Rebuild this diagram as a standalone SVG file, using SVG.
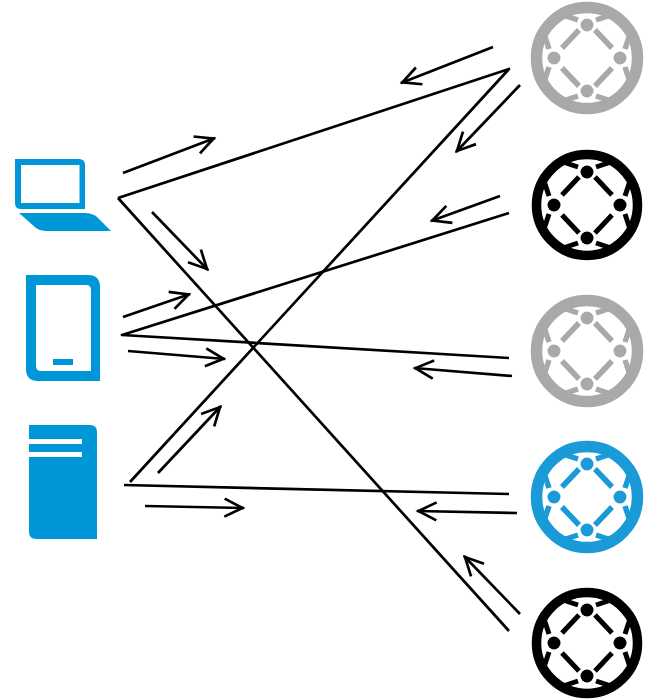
<svg xmlns="http://www.w3.org/2000/svg" width="646" height="700" viewBox="0 0 646 700">
<style>
.ln{fill:none;stroke:#000;stroke-width:2.7;stroke-linejoin:round}
.ar{fill:none;stroke:#000;stroke-width:2.7;marker-end:url(#open)}
.blue{fill:#0097d9}
.gray{color:#a9a9a9;--ring:11.500px;--inner:5.500px}
.black{color:#000;--ring:9.500px;--inner:5px}
.sky{color:#1a9bd7;--ring:11.500px;--inner:5.500px}
.ring{stroke-width:var(--ring)}
.inner{stroke-width:var(--inner)}
</style>
<defs>
<marker id="open" markerUnits="userSpaceOnUse" markerWidth="26" markerHeight="26" refX="21.500" refY="13" orient="auto">
<path d="M2,4 L20,13 L2,22" fill="none" stroke="#000" stroke-width="2.7"/>
</marker>
<symbol id="mesh" overflow="visible" viewBox="-56 -56 112 112" width="112" height="112">
<g fill="none" stroke="currentColor">
<circle r="50.500" class="ring"/>
<g class="inner">
<path d="M-9,-38 Q-18,-41 -27,-44"/>
<path d="M9,-38 Q18,-41 27,-44"/>
<path d="M-9,38 Q-18,41 -27,44"/>
<path d="M9,38 Q18,41 27,44"/>
<path d="M-38,-9 Q-41,-18 -44,-27"/>
<path d="M38,-9 Q41,-18 44,-27"/>
<path d="M-38,9 Q-41,18 -44,27"/>
<path d="M38,9 Q41,18 44,27"/>
<path d="M-8,-28 L-25,-10 M8,-28 L25,-10 M-8,28 L-25,10 M8,28 L25,10"/>
</g>
</g>
<g fill="currentColor">
<circle cy="-33" r="6.500"/><circle cy="33" r="6.500"/><circle cx="-33" r="6.500"/><circle cx="33" r="6.500"/>
</g>
</symbol>
</defs>
<g id="connectors">
<path class="ln" d="M118,198 L509,69 L130,482"/>
<path class="ln" d="M118,198 L509,631"/>
<path class="ln" d="M509,213 L122,335 L509,358"/>
<path class="ln" d="M124,485 L509,494"/>
<path class="ar" d="M123,173 L215,138"/>
<path class="ar" d="M152,212 L208,270"/>
<path class="ar" d="M123,317 L190,294"/>
<path class="ar" d="M128,351 L225,359"/>
<path class="ar" d="M158,473 L221,406"/>
<path class="ar" d="M145,506 L244,508"/>
<path class="ar" d="M493,47 L401,83"/>
<path class="ar" d="M520,85 L456,152"/>
<path class="ar" d="M500,196 L431,221"/>
<path class="ar" d="M512,376 L414,368"/>
<path class="ar" d="M517,513 L417,511"/>
<path class="ar" d="M520,614 L464,556"/>
</g>
<g id="laptop">
<path class="blue" fill-rule="evenodd" d="M15,159 H79 Q85,159 85,165 V209 H21 Q15,209 15,203 Z M21,165 V203 H79.500 V165 Z"/>
<path class="blue" d="M19,213 H85 Q92,213 97,217 L111,231 H45 Q40,231 36,228 Z"/>
</g>
<g id="tablet">
<path class="blue" fill-rule="evenodd" d="M26,275 H88 Q100,275 100,287 V381 H38 Q26,381 26,369 Z M36,285 V366 Q36,371 41,371 H91 V290 Q91,285 86,285 Z"/>
<rect class="blue" x="53" y="359" width="20" height="6"/>
</g>
<g id="server">
<path class="blue" fill-rule="evenodd" d="M29,425 H90 Q97,425 97,432 V539 H36 Q29,539 29,532 Z M29,439 V444 H82 V439 Z M29,452 V457 H82 V452 Z"/>
</g>
<g id="node1" class="gray"><use href="#mesh" x="531" y="2"/></g>
<g id="node2" class="black"><use href="#mesh" x="531" y="149"/></g>
<g id="node3" class="gray"><use href="#mesh" x="531" y="295"/></g>
<g id="node4" class="sky"><use href="#mesh" x="531" y="441"/></g>
<g id="node5" class="black"><use href="#mesh" x="531" y="587"/></g>
</svg>
